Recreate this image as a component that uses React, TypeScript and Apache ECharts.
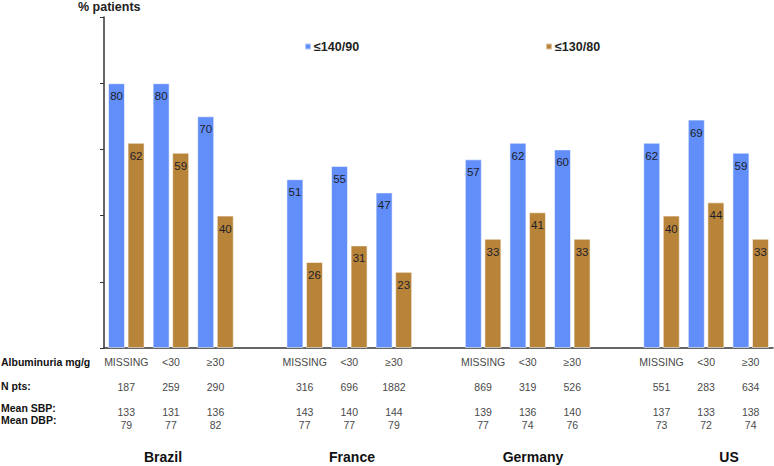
import React, { useEffect, useRef } from "react";
import * as echarts from "echarts";

const countries = ["Brazil", "France", "Germany", "US"];
const albuminuria = ["MISSING", "<30", "≥30"];
const seriesNames = ["≤140/90", "≤130/80"];
const under140 = [
  [80, 80, 70],
  [51, 55, 47],
  [57, 62, 60],
  [62, 69, 59],
];
const under130 = [
  [62, 59, 40],
  [26, 31, 23],
  [33, 41, 33],
  [40, 44, 33],
];
const nPts = [
  [187, 259, 290],
  [316, 696, 1882],
  [869, 319, 526],
  [551, 283, 634],
];
const meanSBP = [
  [133, 131, 136],
  [143, 140, 144],
  [139, 136, 140],
  [137, 133, 138],
];
const meanDBP = [
  [79, 77, 82],
  [77, 77, 79],
  [77, 74, 76],
  [73, 72, 74],
];
const rowLabels = ["Albuminuria mg/g", "N pts:", "Mean SBP:", "Mean DBP:"];
const yTicks = [0, 20, 40, 60, 80, 100];

const FONT = "Arial, 'Liberation Sans', sans-serif";

export default function App() {
  const ref = useRef<HTMLDivElement>(null);

  useEffect(() => {
    if (!ref.current) return;
    const chart = echarts.init(ref.current, undefined, { renderer: "svg" });

    const categories: string[] = [];
    const labels: string[] = [];
    const blue: (number | null)[] = [];
    const brown: (number | null)[] = [];
    countries.forEach((c, ci) => {
      albuminuria.forEach((a, ai) => {
        categories.push(c + " " + a);
        labels.push(
          `${a}\n\n${nPts[ci][ai]}\n\n${meanSBP[ci][ai]}\n${meanDBP[ci][ai]}`
        );
        blue.push(under140[ci][ai]);
        brown.push(under130[ci][ai]);
      });
      if (ci < countries.length - 1) {
        categories.push("gap" + ci);
        labels.push("");
        blue.push(null);
        brown.push(null);
      }
    });

    const countryX = [163, 352, 533, 729];
    const rowY = [362, 386, 408, 420];

    const labelStyle = {
      show: true,
      position: "insideTop" as const,
      distance: 7,
      fontSize: 11.5,
      fontFamily: FONT,
      color: "#1e1e2a",
    };

    chart.setOption({
      animation: false,
      textStyle: { fontFamily: FONT },
      grid: { left: 104, right: 1, top: 17, bottom: 118, containLabel: false },
      legend: [
        {
          data: [seriesNames[0]],
          left: 299,
          top: 35,
          itemWidth: 6,
          itemHeight: 6,
          itemGap: 4,
          icon: "rect",
          textStyle: { fontSize: 12.5, fontWeight: "bold", color: "#222", fontFamily: FONT, padding: [0, 0, 0, -2] },
        },
        {
          data: [seriesNames[1]],
          left: 540,
          top: 35,
          itemWidth: 6,
          itemHeight: 6,
          icon: "rect",
          textStyle: { fontSize: 12.5, fontWeight: "bold", color: "#222", fontFamily: FONT, padding: [0, 0, 0, -2] },
        },
      ],
      xAxis: {
        type: "category",
        data: categories,
        axisLine: { lineStyle: { color: "#333", width: 1.5 } },
        axisTick: { show: false },
        axisLabel: {
          interval: 0,
          margin: 8,
          fontSize: 10.5,
          lineHeight: 12.5,
          color: "#4a4a4a",
          fontFamily: FONT,
          formatter: (_v: string, i: number) => labels[i],
        },
      },
      yAxis: {
        type: "value",
        min: yTicks[0],
        max: yTicks[yTicks.length - 1],
        interval: yTicks[1] - yTicks[0],
        axisLine: { show: true, lineStyle: { color: "#333", width: 1.5 } },
        axisTick: { show: true, length: 4, lineStyle: { color: "#333", width: 1 } },
        axisLabel: { show: false },
        splitLine: { show: false },
      },
      series: [
        {
          name: seriesNames[0],
          type: "bar",
          data: blue,
          barWidth: 17,
          barGap: "15%",
          itemStyle: { color: "#628ef9", borderColor: "rgba(255,255,255,0.55)", borderWidth: 1 },
          label: labelStyle,
        },
        {
          name: seriesNames[1],
          type: "bar",
          data: brown,
          barWidth: 17,
          itemStyle: { color: "#b8843a", borderColor: "rgba(255,255,255,0.55)", borderWidth: 1 },
          label: labelStyle,
        },
      ],
      graphic: [
        {
          type: "text",
          left: 78,
          top: 0,
          style: { text: "% patients", fontSize: 12.5, fontWeight: "bold", fill: "#222", fontFamily: FONT },
        },
        ...rowLabels.map((t, i) => ({
          type: "text",
          x: 1,
          y: rowY[i],
          style: {
            text: t,
            fontSize: 10.5,
            fontWeight: "bold",
            fill: "#111",
            fontFamily: FONT,
            textVerticalAlign: "middle",
          },
        })),
        ...countries.map((c, i) => ({
          type: "text",
          x: countryX[i],
          y: 457,
          style: {
            text: c,
            fontSize: 14,
            fontWeight: "bold",
            fill: "#111",
            fontFamily: FONT,
            textAlign: "center",
            textVerticalAlign: "middle",
          },
        })),
      ],
    });

    return () => chart.dispose();
  }, []);

  return (
    <div
      ref={ref}
      style={{ position: "fixed", left: 0, top: 0, width: 774, height: 466, background: "#fff" }}
    />
  );
}
